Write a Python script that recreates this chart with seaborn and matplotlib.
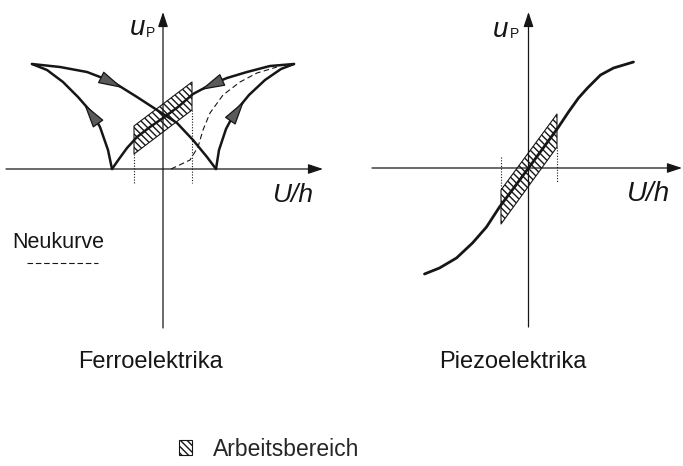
import matplotlib
matplotlib.use("Agg")
import matplotlib.pyplot as plt
import seaborn as sns
import numpy as np
from matplotlib.patches import Patch

sns.set_style("white")
plt.rcParams["font.family"] = ["Liberation Sans", "DejaVu Sans"]
plt.rcParams["hatch.linewidth"] = 1.0

W, H = 683, 466

# Ferroelectric butterfly loop: strain u_P over field U/h (branches in travel order)
ferro_up_left_x = [-51, -55, -63, -71, -85, -100, -116, -131]
ferro_up_left_y = [0, 19, 42, 56, 72, 87, 99, 105]
ferro_down_right_x = [-131, -103, -76, -50, -26, -6, 14, 30, 44, 53]
ferro_down_right_y = [105, 102, 97, 87, 72, 59, 46, 29, 12, 0]
ferro_up_right_x = [53, 56, 63, 72, 86, 102, 118, 131]
ferro_up_right_y = [0, 19, 40, 57, 74, 89, 100, 105]
ferro_down_left_x = [131, 107, 84, 64, 47, 30, 15, 0, -13, -26, -36, -44, -51]
ferro_down_left_y = [105, 103, 97, 91, 84, 75, 62, 51, 42, 32, 21, 10, 0]
# virgin curve (Neukurve)
virgin_x = [8, 27, 35, 40, 47, 60, 77, 94, 114]
virgin_y = [0, 9, 22, 39, 56, 74, 87, 96, 102]
# working range (Arbeitsbereich) of the ferroelectric
ferro_band_x = [-29, 29]
ferro_band_lo = [15, 59]
ferro_band_hi = [43, 87]

# Piezoelectric characteristic
piezo_x = [-104, -89, -72, -56, -42, -29, -14, 0, 14, 30, 40, 50, 59, 72, 85, 105]
piezo_y = [-106, -100, -90, -75, -59, -39, -19, 0, 19, 41, 56, 70, 80, 93, 100, 106]
piezo_band_x = [-27.5, 28.5]
piezo_band_lo = [-56, 21]
piezo_band_hi = [-22, 54]

panel_titles = ["Ferroelektrika", "Piezoelektrika"]
legend_label = "Arbeitsbereich"
virgin_label = "Neukurve"

INK = "#161616"
HATCH = "\\\\\\\\\\"

fig = plt.figure(figsize=(W / 100, H / 100), dpi=100)
fig.patch.set_facecolor("white")

ax1 = fig.add_axes([0, 1 - 340 / H, 340 / W, 340 / H])
ax1.set_xlim(-163, 177)
ax1.set_ylim(-171, 169)
ax2 = fig.add_axes([340 / W, 1 - 340 / H, 343 / W, 340 / H])
ax2.set_xlim(-188.5, 154.5)
ax2.set_ylim(-172, 168)
for ax in (ax1, ax2):
    ax.set_axis_off()


def axis_arrow(ax, start, tip):
    ax.annotate("", xy=tip, xytext=start,
                arrowprops=dict(arrowstyle="-|>,head_length=0.6,head_width=0.2",
                                mutation_scale=15, lw=0.9, color=INK,
                                shrinkA=0, shrinkB=0), annotation_clip=False)


def curve(ax, xs, ys, lw=1.8, **kw):
    sns.lineplot(x=xs, y=ys, ax=ax, sort=False, estimator=None, color=INK,
                 lw=lw, solid_joinstyle="round", solid_capstyle="round",
                 legend=False, **kw)


def arrow_on(ax, xs, ys, s, length=24):
    xs = np.asarray(xs, float)
    ys = np.asarray(ys, float)
    seg = np.hypot(np.diff(xs), np.diff(ys))
    cum = np.concatenate([[0], np.cumsum(seg)])
    tail = (np.interp(s - length / 2, cum, xs), np.interp(s - length / 2, cum, ys))
    tip = (np.interp(s + length / 2, cum, xs), np.interp(s + length / 2, cum, ys))
    ax.annotate("", xy=tip, xytext=tail,
                arrowprops=dict(arrowstyle="-|>,head_length=1.2,head_width=0.32",
                                mutation_scale=13, fc="#5a5a5a", ec=INK, lw=0.9,
                                shrinkA=0, shrinkB=0))


def band(ax, bx, lo, hi):
    ax.fill_between(bx, lo, hi, facecolor="white", edgecolor=INK, hatch=HATCH,
                    lw=0.8, zorder=1)


# ---- left panel: ferroelectric ----
axis_arrow(ax1, (-157, 0), (160, 0))
axis_arrow(ax1, (0, -159), (0, 157))
band(ax1, ferro_band_x, ferro_band_lo, ferro_band_hi)
for bx, lo in zip(ferro_band_x, ferro_band_lo):
    ax1.plot([bx, bx], [lo, -14], color=INK, lw=0.8, ls=(0, (1, 1.5)))
curve(ax1, virgin_x, virgin_y, lw=0.8, dashes=(5, 3))
for xs, ys, s in [(ferro_up_left_x, ferro_up_left_y, 60),
                  (ferro_down_right_x, ferro_down_right_y, 83),
                  (ferro_up_right_x, ferro_up_right_y, 63),
                  (ferro_down_left_x, ferro_down_left_y, 86)]:
    curve(ax1, xs, ys)
    arrow_on(ax1, xs, ys, s)

# ---- right panel: piezoelectric ----
axis_arrow(ax2, (-156.5, 0), (153.5, 0))
axis_arrow(ax2, (0, -159), (0, 156))
band(ax2, piezo_band_x, piezo_band_lo, piezo_band_hi)
ax2.plot([piezo_band_x[0]] * 2, [11, piezo_band_hi[0]], color=INK, lw=0.8, ls=(0, (1, 1.5)))
ax2.plot([piezo_band_x[1]] * 2, [piezo_band_lo[1], -15], color=INK, lw=0.8, ls=(0, (1, 1.5)))
curve(ax2, piezo_x, piezo_y, lw=2.0)


def ftext(px, py, s, **kw):
    fig.text(px / W, 1 - py / H, s, color=INK, **kw)


# axis labels
for ux, ub, px_, pb in [(130, 35, 146, 37), (493, 37, 510, 38)]:
    ftext(ux, ub, "u", fontsize=20, style="italic", ha="left", va="baseline")
    ftext(px_, pb, "P", fontsize=10, ha="left", va="baseline")
ftext(272, 202, "U/h", fontsize=19, style="italic", ha="left", va="baseline")
ftext(627, 201, "U/h", fontsize=20, style="italic", ha="left", va="baseline")

# virgin curve key
ftext(12, 248, virgin_label, fontsize=15.5, ha="left", va="baseline")
fig.add_artist(plt.Line2D([27 / W, 98 / W], [1 - 263 / H] * 2, color=INK, lw=0.8,
                          dashes=(5, 2.5)))

# panel titles
ftext(150, 368, panel_titles[0], fontsize=17, ha="center", va="baseline")
ftext(513, 368, panel_titles[1], fontsize=17, ha="center", va="baseline")

# legend for the hatched working range
fig.legend(handles=[Patch(facecolor="white", edgecolor=INK, hatch=HATCH, lw=0.8)],
           labels=[legend_label], loc="center left",
           bbox_to_anchor=(179 / W, 1 - 449 / H), frameon=False, fontsize=16.5,
           handlelength=0.57, handleheight=0.62, handletextpad=0.92,
           borderpad=0, borderaxespad=0)

fig.savefig("out.png", dpi=100, facecolor="white")
